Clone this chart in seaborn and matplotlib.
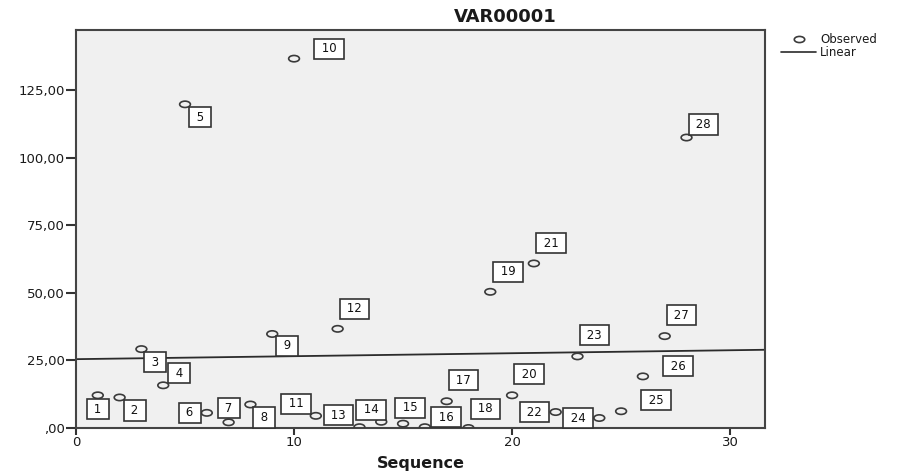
import numpy as np
import pandas as pd
import matplotlib
matplotlib.use("Agg")
import matplotlib.pyplot as plt
from matplotlib.path import Path
from matplotlib.transforms import Affine2D
from matplotlib.lines import Line2D
import seaborn as sns

# Observations of VAR00001 by case sequence
sequence = list(range(1, 29))
var00001 = [12.1, 11.3, 29.2, 15.8, 119.8, 5.6, 2.1, 8.7, 34.8, 136.7,
            4.5, 36.7, 0.3, 2.3, 1.6, 0.3, 9.9, 0.0, 50.4, 12.1,
            60.9, 5.9, 26.5, 3.7, 6.2, 19.1, 34.0, 107.5]
case_labels = [str(n) for n in sequence]

x_ticks = [0, 10, 20, 30]
x_tick_labels = ["0", "10", "20", "30"]
y_ticks = [0, 25, 50, 75, 100, 125]
y_tick_labels = [",00", "25,00", "50,00", "75,00", "100,00", "125,00"]

# Case-label placement: pixel offsets (right, up) from each point
label_offsets = [(0, -14), (15, -13), (14, -13), (16, 12), (15, -13),
                 (-17, 0), (0, 14), (14, -13), (15, -12), (35, 10),
                 (-20, 12), (17, 20), (-21, 12), (-10, 12), (7, 16),
                 (21, 10), (17, 21), (17, 19), (18, 20), (17, 21),
                 (17, 20), (-21, 0), (17, 21), (-21, 0), (35, 11),
                 (35, 10), (17, 21), (17, 13)]

df = pd.DataFrame({"Sequence": sequence, "VAR00001": var00001})

sns.set_theme(style="white")
plt.rcParams["font.family"] = ["DejaVu Sans"]
plt.rcParams["text.color"] = "#1a1a1a"

W, H = 900, 472
fig = plt.figure(figsize=(W / 100, H / 100), dpi=100)
ax = fig.add_axes([76 / W, 44 / H, 689 / W, 398 / H])
ax.set_facecolor("#f0f0f0")
xlim = (0, 31.6)
ylim = (0, 147.3)
ax.set_xlim(*xlim)
ax.set_ylim(*ylim)

# SPSS-style flattened ring marker
ring = Path.unit_circle().transformed(Affine2D().scale(1.7, 1.0))
ink = "#3a3a3a"

# Linear fit across the full axis range
sns.regplot(data=df, x="Sequence", y="VAR00001", scatter=False, ci=None,
            truncate=False, ax=ax,
            line_kws=dict(color="#2b2b2b", lw=1.3, zorder=2))

sns.scatterplot(data=df, x="Sequence", y="VAR00001", marker=ring, s=60,
                facecolor="none", edgecolor=ink, linewidth=1.2,
                ax=ax, zorder=3, legend=False)

for xi, yi, lab, (dx, dy) in zip(sequence, var00001, case_labels, label_offsets):
    ax.annotate(f" {lab} ", xy=(xi, yi), xytext=(dx, dy),
                textcoords="offset pixels", ha="center", va="center",
                fontsize=8.5, color="#111111", zorder=4,
                bbox=dict(boxstyle="square,pad=0.3", fc="white",
                          ec="#333333", lw=1.2))

ax.set_xlim(*xlim)
ax.set_ylim(*ylim)
ax.set_xticks(x_ticks)
ax.set_xticklabels(x_tick_labels)
ax.set_yticks(y_ticks)
ax.set_yticklabels(y_tick_labels)
ax.tick_params(axis="x", bottom=True, direction="out", length=5, width=1.5,
               color="#333333", labelsize=9.5, labelcolor="#1a1a1a", pad=1)
ax.tick_params(axis="y", left=True, direction="out", length=7, width=1.5,
               color="#333333", labelsize=9.5, labelcolor="#1a1a1a", pad=1)
for sp in ax.spines.values():
    sp.set_visible(True)
    sp.set_color("#444444")
    sp.set_linewidth(1.5)
ax.grid(False)

ax.set_xlabel("Sequence", fontsize=11.5, fontweight="bold", labelpad=5,
              color="#1a1a1a")
ax.set_ylabel("")

fig.text(505 / W, 1 - 17 / H, "VAR00001", ha="center", va="center",
         fontsize=13, fontweight="bold", color="#1a1a1a")

handles = [
    Line2D([], [], marker=ring, ls="none", markerfacecolor="none",
           markeredgecolor=ink, markersize=7.5, markeredgewidth=1.2),
    Line2D([], [], color="#2b2b2b", lw=1.2),
]
fig.legend(handles, ["Observed", "Linear"], loc="upper left",
           bbox_to_anchor=(781 / W, 1 - 33 / H), frameon=False, fontsize=8.5,
           handlelength=3.0, handletextpad=0.3, labelspacing=0.02,
           borderpad=0, borderaxespad=0)

fig.savefig("out.png", dpi=100, facecolor="white")
